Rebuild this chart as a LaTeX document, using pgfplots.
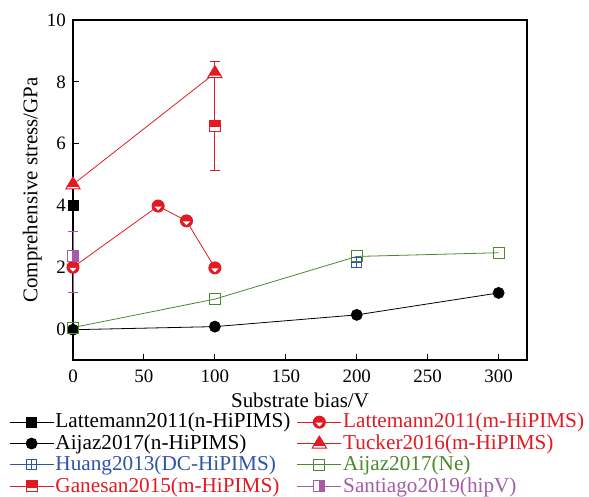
\documentclass[border=0pt]{standalone}
\usepackage{fontspec}
\setmainfont{Liberation Serif}
\usepackage{pgfplots}
\pgfplotsset{compat=1.18}
\usetikzlibrary{plotmarks,calc}
\definecolor{cred}{HTML}{E31A22}
\definecolor{cgreen}{HTML}{4A8A2A}
\definecolor{cblue}{HTML}{2E54A8}
\definecolor{cpurple}{HTML}{A45CA5}
\newcommand{\fs}{\fontsize{21}{24}\selectfont}
\newcommand{\ft}{\fontsize{19}{22}\selectfont}
\newcommand{\fl}{\fontsize{21.3}{24}\selectfont}

% circle, upper half red, white wedge below
\pgfdeclareplotmark{lmhalf}{%
  \pgfpathcircle{\pgfpointorigin}{\pgfplotmarksize}%
  \pgfsetfillcolor{cred}\pgfusepathqfillstroke
  \pgfpathmoveto{\pgfqpoint{-0.62\pgfplotmarksize}{-0.08\pgfplotmarksize}}%
  \pgfpathlineto{\pgfqpoint{0.62\pgfplotmarksize}{-0.08\pgfplotmarksize}}%
  \pgfpathlineto{\pgfqpoint{0pt}{-0.72\pgfplotmarksize}}%
  \pgfpathclose
  \pgfsetfillcolor{white}\pgfusepathqfill}
% triangle, top part red
\pgfdeclareplotmark{tritop}{%
  \pgfpathmoveto{\pgfqpoint{0pt}{1.1\pgfplotmarksize}}%
  \pgfpathlineto{\pgfqpoint{-1.1\pgfplotmarksize}{-0.7\pgfplotmarksize}}%
  \pgfpathlineto{\pgfqpoint{1.1\pgfplotmarksize}{-0.7\pgfplotmarksize}}%
  \pgfpathclose
  \pgfsetfillcolor{white}\pgfusepathqfillstroke
  \pgfpathmoveto{\pgfqpoint{0pt}{1.1\pgfplotmarksize}}%
  \pgfpathlineto{\pgfqpoint{-0.86\pgfplotmarksize}{-0.3\pgfplotmarksize}}%
  \pgfpathlineto{\pgfqpoint{0.86\pgfplotmarksize}{-0.3\pgfplotmarksize}}%
  \pgfpathclose
  \pgfsetfillcolor{cred}\pgfusepathqfillstroke}
% square, top part red
\pgfdeclareplotmark{sqtop}{%
  \pgfpathrectangle{\pgfqpoint{-\pgfplotmarksize}{-\pgfplotmarksize}}{\pgfqpoint{2\pgfplotmarksize}{2\pgfplotmarksize}}%
  \pgfsetfillcolor{white}\pgfusepathqfillstroke
  \pgfpathrectangle{\pgfqpoint{-\pgfplotmarksize}{-0.15\pgfplotmarksize}}{\pgfqpoint{2\pgfplotmarksize}{1.15\pgfplotmarksize}}%
  \pgfsetfillcolor{cred}\pgfusepathqfillstroke}
% square, right half purple
\pgfdeclareplotmark{sqright}{%
  \pgfpathrectangle{\pgfqpoint{-\pgfplotmarksize}{-\pgfplotmarksize}}{\pgfqpoint{2\pgfplotmarksize}{2\pgfplotmarksize}}%
  \pgfsetfillcolor{white}\pgfusepathqfillstroke
  \pgfpathrectangle{\pgfqpoint{0pt}{-\pgfplotmarksize}}{\pgfqpoint{\pgfplotmarksize}{2\pgfplotmarksize}}%
  \pgfsetfillcolor{cpurple}\pgfusepathqfillstroke}
% open square with plus
\pgfdeclareplotmark{boxplus}{%
  \pgfpathrectangle{\pgfqpoint{-\pgfplotmarksize}{-\pgfplotmarksize}}{\pgfqpoint{2\pgfplotmarksize}{2\pgfplotmarksize}}%
  \pgfsetfillcolor{white}\pgfusepathqfillstroke
  \pgfpathmoveto{\pgfqpoint{-\pgfplotmarksize}{0pt}}\pgfpathlineto{\pgfqpoint{\pgfplotmarksize}{0pt}}%
  \pgfpathmoveto{\pgfqpoint{0pt}{-\pgfplotmarksize}}\pgfpathlineto{\pgfqpoint{0pt}{\pgfplotmarksize}}%
  \pgfusepathqstroke}

\begin{document}
\fs
\begin{tikzpicture}
\begin{axis}[name=ax,
  scale only axis, width=454bp, height=340bp,
  xmin=0, xmax=320, ymin=-1, ymax=10,
  xtick={0,50,...,300}, ytick={0,2,...,10},
  tick align=inside, xtick pos=bottom, ytick pos=left,
  major tick length=6bp,
  axis line style={line width=1.3bp}, tick style={line width=1bp, black},
  clip=false,
  xlabel={Substrate bias/V}, ylabel={Comprehensive stress/GPa},
  ticklabel style={font=\ft}, label style={font=\fs},
  xticklabel style={yshift=-3bp},
  xlabel style={yshift=4bp}, ylabel style={yshift=-9bp},
  /pgf/number format/assume math mode=true,
  legend columns=2,
  legend style={draw=none, fill=none, at={(-0.141,-0.156)}, anchor=north west,
    inner sep=0pt, row sep=3.5bp, font=\fl,
    nodes={inner xsep=1.5bp, inner ysep=0pt, anchor=west},
    /tikz/every even column/.append style={column sep=5bp}},
  legend cell align=left,
  legend image code/.code={\draw[mark repeat=2,mark phase=2,#1] plot coordinates {(0bp,0bp) (22bp,0bp) (44bp,0bp)};},
  every axis plot/.append style={line width=0.8bp},
  error bars/error bar style={line width=0.9bp},
  error bars/error mark options={rotate=90, mark size=5bp, line width=0.9bp}
]
% Lattemann2011 (n-HiPIMS)
\addplot[black, mark=square*, mark size=5bp] coordinates {(0,4.0)};
\addlegendentry{Lattemann2011(n-HiPIMS)}
% Lattemann2011 (m-HiPIMS)
\addplot[cred, mark=lmhalf, mark size=6bp, mark options={line width=1bp}] coordinates {(0,2.0) (60,3.98) (80,3.5) (100,1.98)};
\addlegendentry{\textcolor{cred}{Lattemann2011(m-HiPIMS)}}
% Aijaz2017 (n-HiPIMS)
\addplot[black, mark=*, mark size=5.5bp] coordinates {(0,-0.02) (100,0.08) (200,0.46) (300,1.17)};
\addlegendentry{Aijaz2017(n-HiPIMS)}
% Tucker2016 (m-HiPIMS)
\addplot[cred, mark=tritop, mark size=6.5bp, mark options={line width=1bp}] coordinates {(0,4.68) (100,8.28)};
\addlegendentry{\textcolor{cred}{Tucker2016(m-HiPIMS)}}
% Huang2013 (DC-HiPIMS)
\addplot[cblue, mark=boxplus, mark size=5bp, mark options={line width=0.8bp},
  error bars/.cd, y dir=both, y explicit] coordinates {(200,2.15) +- (0,0.1)};
\addlegendentry{\textcolor{cblue}{Huang2013(DC-HiPIMS)}}
% Aijaz2017 (Ne)
\addplot[cgreen, mark=square, mark size=5.5bp, mark options={line width=1bp, fill=white}] coordinates {(0,0.05) (100,0.97) (200,2.35) (300,2.47)};
\addlegendentry{\textcolor{cgreen}{Aijaz2017(Ne)}}
% Ganesan2015 (m-HiPIMS)
\addplot[cred, mark=sqtop, mark size=5.5bp, mark options={line width=1bp},
  error bars/.cd, y dir=both, y explicit] coordinates {(100,6.57) += (0,2.1) -= (0,1.43)};
\addlegendentry{\textcolor{cred}{Ganesan2015(m-HiPIMS)}}
% Santiago2019 (hipV)
\addplot[cpurple, mark=sqright, mark size=5.5bp, mark options={line width=1bp},
  error bars/.cd, y dir=both, y explicit] coordinates {(0,2.37) += (0,0.8) -= (0,1.2)};
\addlegendentry{\textcolor{cpurple}{Santiago2019(hipV)}}
\end{axis}
\pgfresetboundingbox
\path ($(ax.south west)+(-73bp,-137bp)$) rectangle ($(ax.north east)+(62bp,20bp)$);
\end{tikzpicture}
\end{document}
